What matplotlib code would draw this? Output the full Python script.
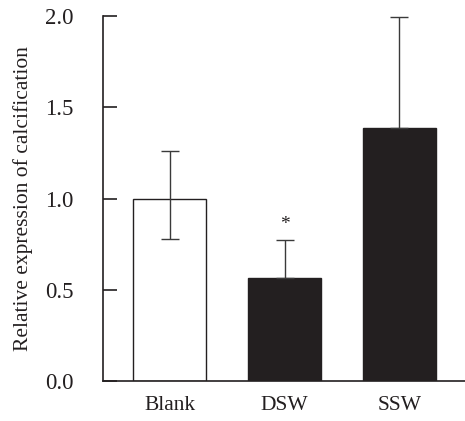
import numpy as np
import matplotlib.pyplot as plt

plt.rcParams['font.family'] = ['Liberation Serif', 'DejaVu Serif']

groups = ['Blank', 'DSW', 'SSW']
means = [1.00, 0.565, 1.385]
err_lo = [0.22, 0.0, 0.0]
err_hi = [0.26, 0.21, 0.61]
fills = ['white', '#231f20', '#231f20']

fig = plt.figure(figsize=(4.65, 4.21), dpi=100)
ax = fig.add_axes([0.2215, 0.095, 0.7785, 0.867])

x = np.arange(len(groups))
ax.bar(x, means, width=0.63, color=fills, edgecolor='#231f20', linewidth=1.0, zorder=2)
ax.errorbar(x, means, yerr=[err_lo, err_hi], fmt='none', ecolor='#3a3a3a',
            elinewidth=1.0, capsize=6.5, capthick=1.0, zorder=3)

# significance mark over DSW
ax.text(1, means[1] + err_hi[1] + 0.08, '*', ha='center', va='center', fontsize=14, color='#231f20')

ax.set_xlim(-0.58, 2.57)
ax.set_ylim(0, 2.0)
ax.set_yticks([0.0, 0.5, 1.0, 1.5, 2.0])
ax.set_yticklabels(['0.0', '0.5', '1.0', '1.5', '2.0'])
ax.set_xticks(x)
ax.set_xticklabels(groups)
ax.tick_params(axis='y', direction='in', length=10, width=1.2, labelsize=16.5, pad=21,
               colors='#231f20')
ax.tick_params(axis='x', length=0, labelsize=15.5, pad=11, colors='#231f20')
ax.set_ylabel('Relative expression of calcification', fontsize=15.5, color='#231f20', labelpad=9)

for s in ['top', 'right']:
    ax.spines[s].set_visible(False)
for s in ['left', 'bottom']:
    ax.spines[s].set_linewidth(1.2)
    ax.spines[s].set_color('#231f20')

fig.savefig('out.png', dpi=100)
